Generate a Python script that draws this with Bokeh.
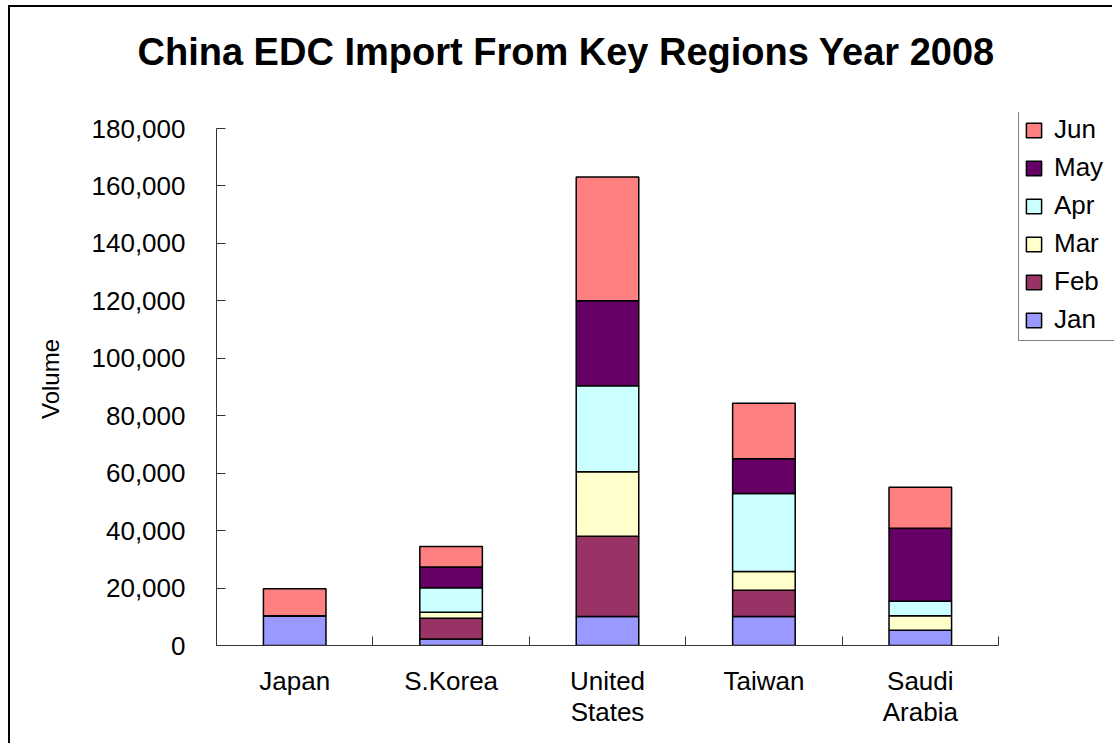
from bokeh.plotting import figure
from bokeh.models import (ColumnDataSource, Range1d, FixedTicker, SingleIntervalTicker,
                          NumeralTickFormatter, Legend, LegendItem, Title, LinearAxis)
from bokeh.embed import file_html
from bokeh.resources import INLINE

regions = ["Japan", "S.Korea", "United\nStates", "Taiwan", "Saudi\nArabia"]
months = ["Jan", "Feb", "Mar", "Apr", "May", "Jun"]
jan = [10400, 2300, 10100, 10100, 5300]
feb = [0, 7200, 27900, 9100, 0]
mar = [0, 2100, 22500, 6600, 5100]
apr = [0, 8500, 29900, 27100, 5000]
may = [0, 7200, 29600, 12100, 25400]
jun = [9400, 7200, 43100, 19350, 14300]
colors = ["#9999FF", "#993366", "#FFFFCC", "#CCFFFF", "#660066", "#FF8080"]
y_ticks_step = 20000
y_max = 180000

FONT = "Liberation Sans"

# layout (canvas pixels)
W, H = 1104, 738
LEFT, TOP, BOTTOM = 206, 105, 100
AXIS_W = 782          # pixel length of the category axis
AXIS_H = 517          # pixel length of the value axis (0..y_max)
frame_w = W - LEFT
frame_h = H - TOP - BOTTOM
n = len(regions)
x_end = 0.5 + frame_w * n / AXIS_W
y_end = y_max * frame_h / AXIS_H

xpos = list(range(1, n + 1))
src = ColumnDataSource(dict(x=xpos, Jan=jan, Feb=feb, Mar=mar, Apr=apr, May=may, Jun=jun))

p = figure(width=W, height=H, output_backend="svg", toolbar_location=None,
           x_range=Range1d(0.5, x_end), y_range=Range1d(0, y_end),
           min_border_left=LEFT, min_border_right=0, min_border_top=TOP, min_border_bottom=BOTTOM)
p.styles = {"margin-left": "8px", "margin-top": "5px",
            "border-left": "2px solid black", "border-top": "2px solid black"}
p.outline_line_color = None
p.xgrid.visible = False
p.ygrid.visible = False
p.background_fill_color = "white"
p.border_fill_color = "white"

renderers = p.vbar_stack(months, x="x", width=0.4, source=src, color=colors,
                         line_color="black", line_width=1.5)

# x axis (category axis below)
xa = p.below[0]
xa.bounds = (0.5, n + 0.5)
xa.ticker = FixedTicker(ticks=xpos, minor_ticks=[i + 0.5 for i in range(0, n + 1)])
xa.major_label_overrides = {i: r for i, r in zip(xpos, regions)}
xa.major_tick_in = 0
xa.major_tick_out = 0
xa.minor_tick_in = 9
xa.minor_tick_out = 0
xa.minor_tick_line_color = "#333333"
xa.axis_line_color = "#333333"
xa.major_label_text_font = FONT
xa.major_label_text_font_size = "26px"
xa.major_label_text_line_height = 1.05
xa.major_label_text_color = "black"
xa.major_label_standoff = 20

# y axis
ya = p.left[0]
ya.bounds = (0, y_max)
ya.ticker = SingleIntervalTicker(interval=y_ticks_step, num_minor_ticks=0)
ya.formatter = NumeralTickFormatter(format="0,0")
ya.major_tick_in = 9
ya.major_tick_out = 0
ya.minor_tick_line_color = None
ya.axis_line_color = "#333333"
ya.major_tick_line_color = "#333333"
ya.major_label_text_font = FONT
ya.major_label_text_font_size = "26px"
ya.major_label_text_color = "black"
ya.major_label_standoff = 31
ya.axis_label = "Volume"
ya.axis_label_text_font = FONT
ya.axis_label_text_font_size = "24px"
ya.axis_label_text_font_style = "normal"
ya.axis_label_text_color = "black"
ya.axis_label_standoff = 25

# invisible spacer (one hidden tick, empty label) between plot area and title
spacer = LinearAxis(ticker=FixedTicker(ticks=[1]), major_tick_out=35, major_tick_in=0,
                    axis_line_color=None, major_tick_line_color=None,
                    minor_tick_line_color=None, major_label_standoff=0,
                    major_label_overrides={1: ""}, major_label_text_font_size="1px")
p.add_layout(spacer, "above")

# title (outermost above element)
p.title = Title(text="China EDC Import From Key Regions Year 2008", align="left",
                offset=-79, standoff=10, text_font=FONT, text_font_size="38px",
                text_font_style="bold", text_color="black")

# legend (Jun on top)
items = [LegendItem(label=m, renderers=[r]) for m, r in zip(months, renderers)][::-1]
legend = Legend(items=items, location=(802, 304), orientation="vertical")
legend.label_text_font = FONT
legend.label_text_font_size = "26px"
legend.label_text_color = "black"
legend.glyph_width = 19
legend.glyph_height = 18
legend.label_height = 28
legend.label_width = 110
legend.label_standoff = 11
legend.spacing = 7
legend.padding = 5
legend.margin = 0
legend.border_line_color = "black"
legend.border_line_width = 1
legend.background_fill_color = "white"
legend.background_fill_alpha = 1
p.add_layout(legend)

open("out.html", "w").write(file_html(p, INLINE))
